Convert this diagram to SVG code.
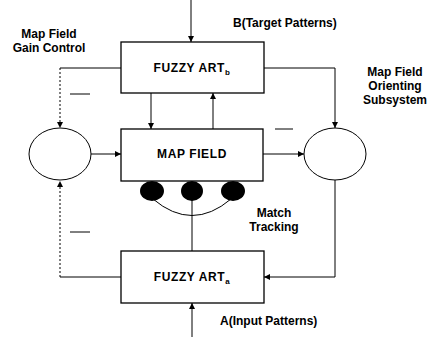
<svg xmlns="http://www.w3.org/2000/svg" width="432" height="337" viewBox="0 0 432 337">
<defs>
<style>
.box{fill:#fff;stroke:#000;stroke-width:1.3}
.ln{fill:none;stroke:#000;stroke-width:1}
.dot{fill:none;stroke:#000;stroke-width:1;stroke-dasharray:2 2}
.t{font-family:"Liberation Sans",Arial,sans-serif;font-weight:bold;font-size:12px;fill:#000}
.bt{font-family:"Liberation Sans",Arial,sans-serif;font-weight:bold;font-size:12px;fill:#000;letter-spacing:0.6px}
.c{text-anchor:middle}
</style>
<marker id="ah" viewBox="0 0 8 8" refX="8" refY="4" markerWidth="6" markerHeight="6" orient="auto" markerUnits="userSpaceOnUse">
<path d="M0,0 L8,4 L0,8 z" fill="#000"/>
</marker>
</defs>
<rect width="432" height="337" fill="#fff"/>
<g id="connectors">
<line class="ln" x1="191" y1="0" x2="191" y2="42" marker-end="url(#ah)"/>
<line class="ln" x1="192" y1="337" x2="192" y2="303" marker-end="url(#ah)"/>
<polyline class="ln" points="121,68 60,68"/>
<line class="dot" x1="60" y1="68" x2="60" y2="128" marker-end="url(#ah)"/>
<polyline class="dot" points="60,277 60,181" marker-end="url(#ah)"/>
<line class="ln" x1="60" y1="277" x2="121" y2="277"/>
<line class="ln" x1="91" y1="154" x2="121" y2="154" marker-end="url(#ah)"/>
<line class="ln" x1="151" y1="93" x2="151" y2="129" marker-end="url(#ah)"/>
<line class="ln" x1="213" y1="129" x2="213" y2="93" marker-end="url(#ah)"/>
<line class="ln" x1="263" y1="154" x2="304" y2="154" marker-end="url(#ah)"/>
<polyline class="ln" points="264,68 335,68 335,128" marker-end="url(#ah)"/>
<polyline class="ln" points="335,180 335,277 264,277" marker-end="url(#ah)"/>
<path class="ln" d="M153,199 Q192,232 231,199"/>
<line class="ln" x1="192" y1="200" x2="192" y2="251"/>
<line class="ln" x1="70" y1="94" x2="90" y2="94"/>
<line class="ln" x1="70" y1="232" x2="90" y2="232"/>
<line class="ln" x1="275" y1="129" x2="293" y2="129"/>
</g>
<g id="fuzzy-art-b">
<rect class="box" x="121" y="42" width="143" height="51"/>
<text class="bt c" x="192" y="72">FUZZY ART<tspan font-size="8" dy="3">b</tspan></text>
</g>
<g id="map-field">
<rect class="box" x="121" y="129" width="142" height="52"/>
<text class="bt c" x="192" y="158">MAP FIELD</text>
</g>
<g id="fuzzy-art-a">
<rect class="box" x="121" y="251" width="143" height="52"/>
<text class="bt c" x="192" y="281">FUZZY ART<tspan font-size="8" dy="3">a</tspan></text>
</g>
<g id="gain-control">
<ellipse class="ln" cx="60" cy="154" rx="31" ry="26"/>
</g>
<g id="orienting">
<ellipse class="ln" cx="335" cy="154" rx="31" ry="26"/>
</g>
<g id="match-nodes">
<ellipse cx="152" cy="191" rx="12" ry="10" fill="#000"/>
<ellipse cx="192" cy="191" rx="11" ry="10" fill="#000"/>
<ellipse cx="233" cy="191" rx="12" ry="10" fill="#000"/>
</g>
<g id="labels">
<text class="t c" x="49" y="38">Map Field</text>
<text class="t c" x="49" y="52">Gain Control</text>
<text class="t" x="233" y="27">B(Target Patterns)</text>
<text class="t c" x="395" y="76">Map Field</text>
<text class="t c" x="395" y="90">Orienting</text>
<text class="t c" x="395" y="104">Subsystem</text>
<text class="t c" x="274" y="217">Match</text>
<text class="t c" x="274" y="231">Tracking</text>
<text class="t" x="220" y="325">A(Input Patterns)</text>
</g>
</svg>
